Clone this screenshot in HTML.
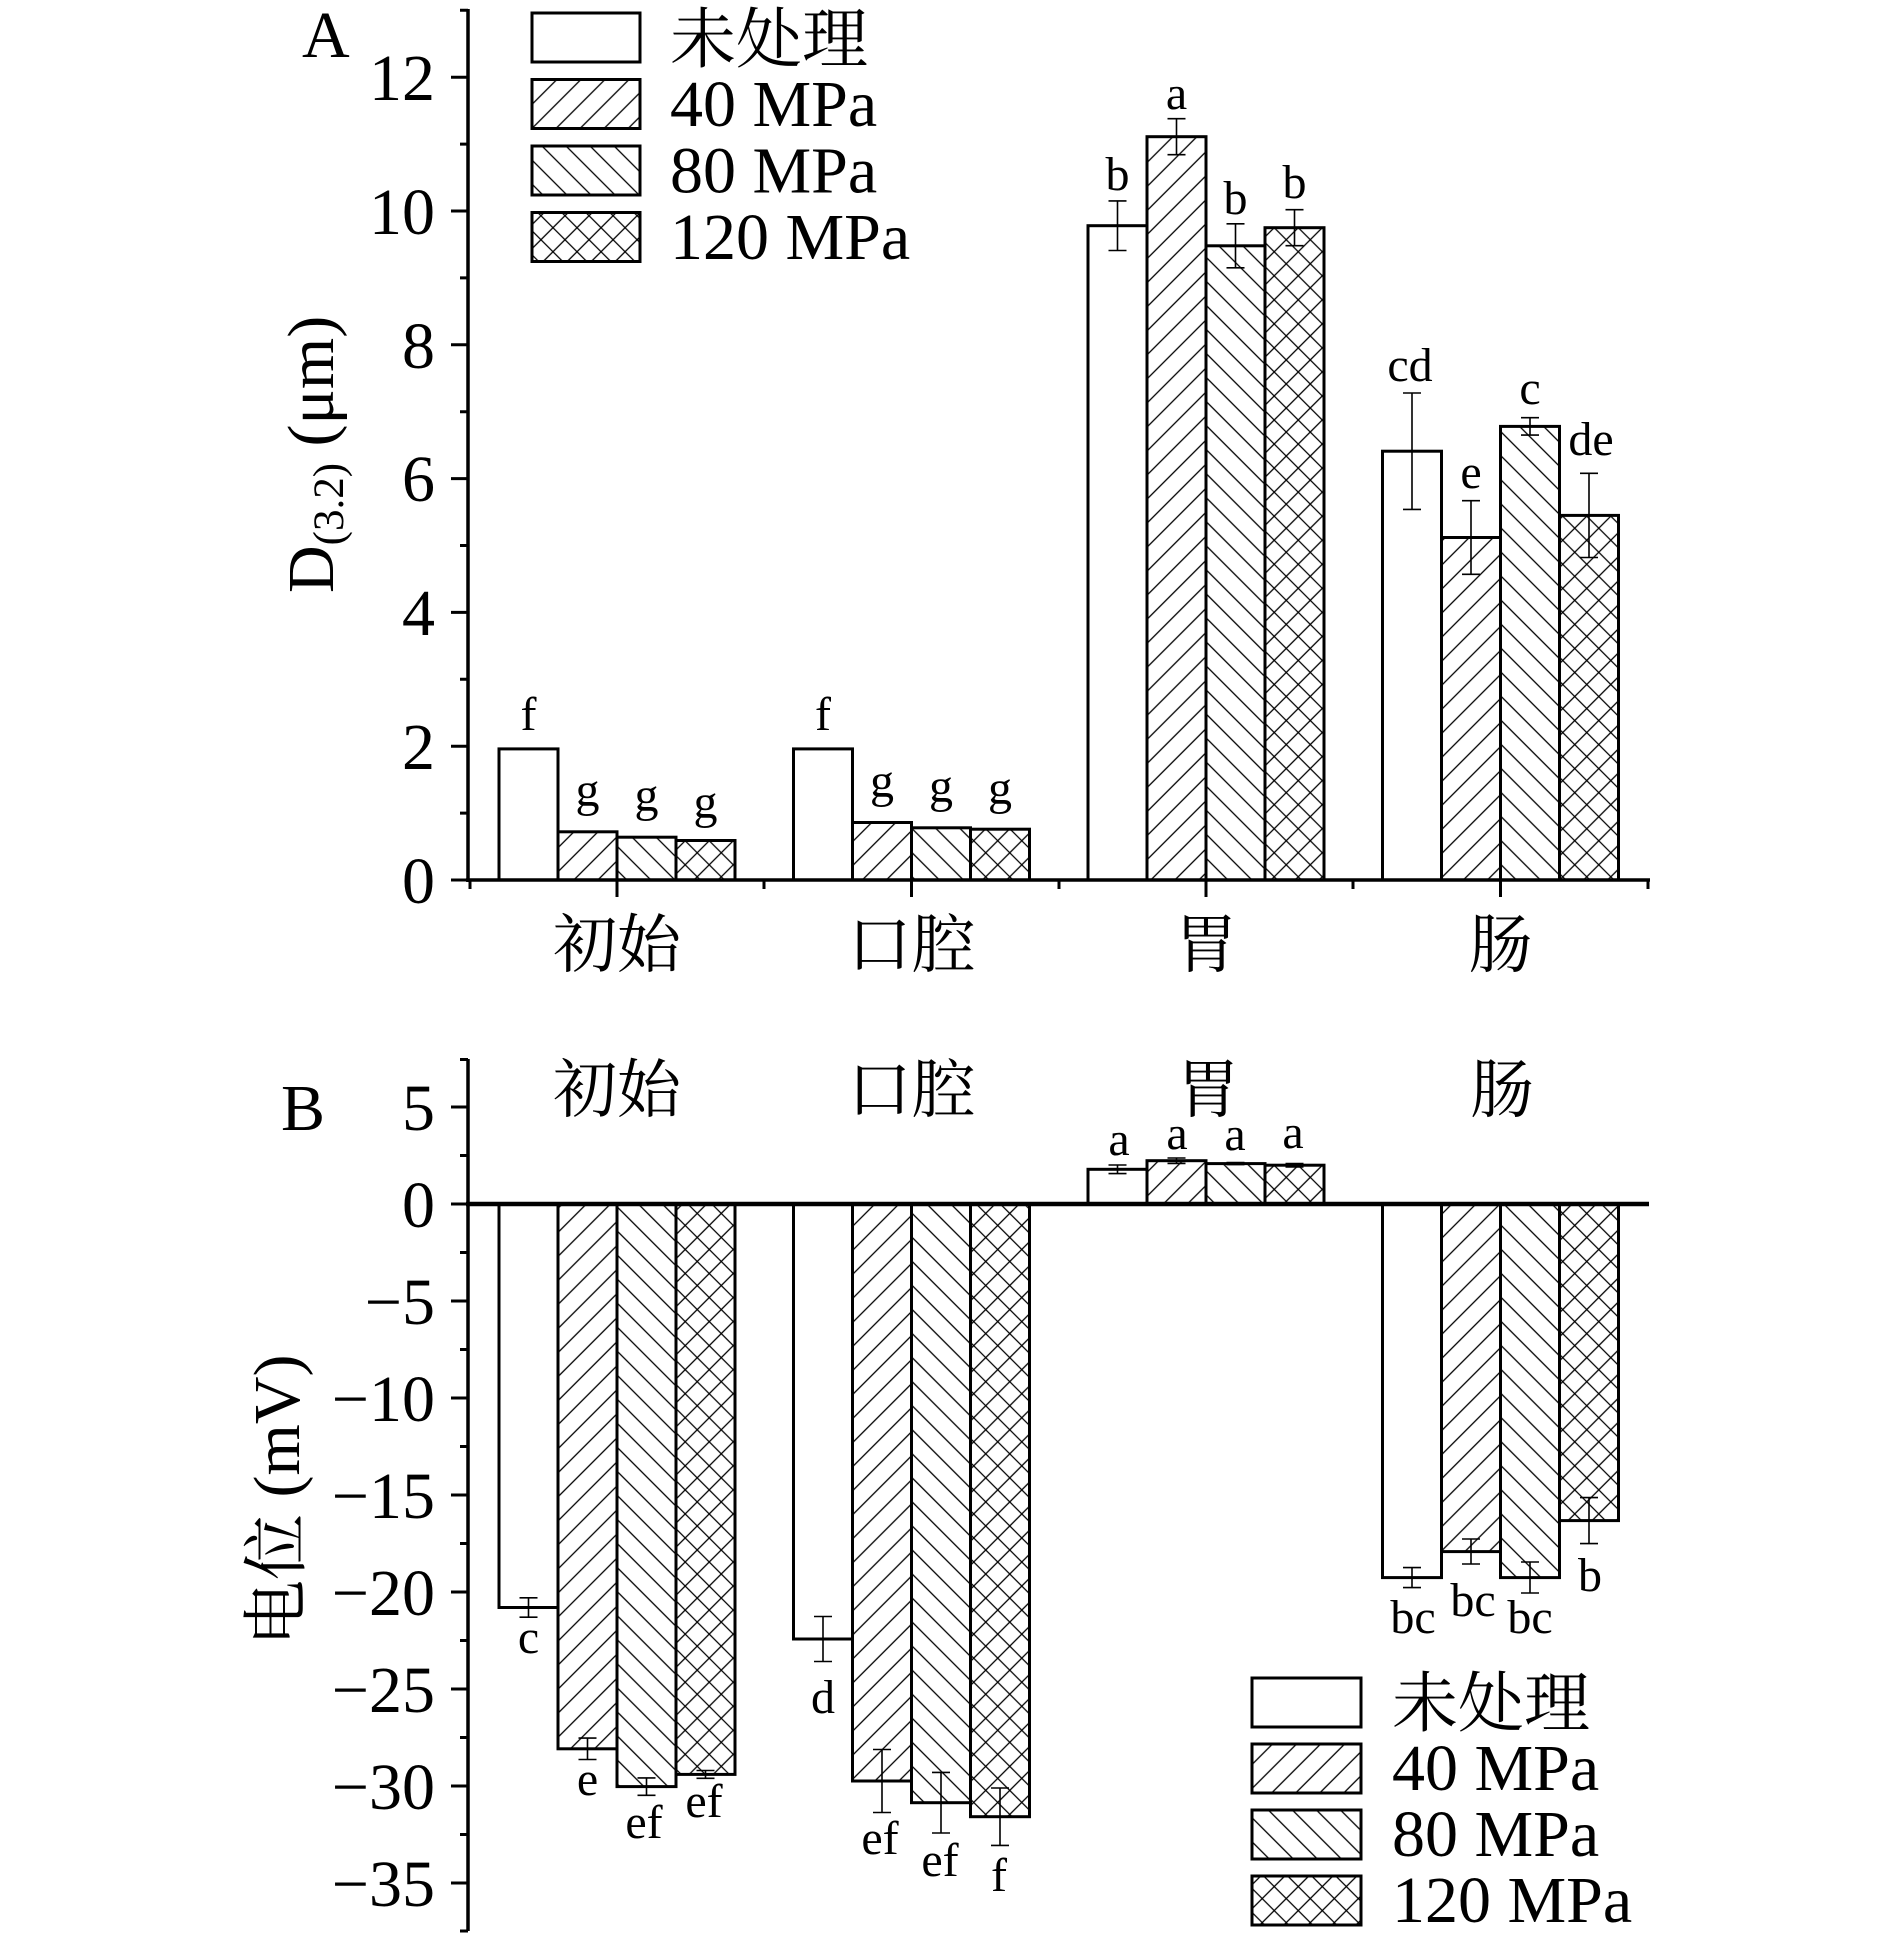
<!DOCTYPE html>
<html>
<head>
<meta charset="utf-8">
<style>
html,body{margin:0;padding:0;background:#fff;}
svg{display:block;}
text{font-family:"Liberation Serif","Noto Serif CJK SC",serif;fill:#000;}
.cjk{font-family:"Liberation Serif","Noto Serif CJK SC","Noto Sans CJK SC",serif;}
</style>
</head>
<body>
<svg width="1890" height="1943" viewBox="0 0 1890 1943" xmlns="http://www.w3.org/2000/svg">
<defs>
<pattern id="p40" patternUnits="userSpaceOnUse" width="17" height="17" patternTransform="rotate(45)">
<line x1="8" y1="-1" x2="8" y2="18" stroke="#000" stroke-width="1.3"/>
</pattern>
<pattern id="p80" patternUnits="userSpaceOnUse" width="17" height="17" patternTransform="rotate(-45)">
<line x1="8" y1="-1" x2="8" y2="18" stroke="#000" stroke-width="1.3"/>
</pattern>
<pattern id="p120" patternUnits="userSpaceOnUse" width="17" height="17" patternTransform="rotate(45)">
<line x1="8" y1="-1" x2="8" y2="18" stroke="#000" stroke-width="1.3"/>
<line x1="-1" y1="8" x2="18" y2="8" stroke="#000" stroke-width="1.3"/>
</pattern>
</defs>
<rect width="1890" height="1943" fill="#fff"/>

<!-- ============ PANEL A ============ -->
<text x="302" y="57" font-size="66">A</text>

<!-- bars A -->
<g stroke="#000" stroke-width="3">
<rect x="499" y="748.9" width="59" height="131.1" fill="#fff"/>
<rect x="558" y="831.8" width="59" height="48.2" fill="url(#p40)"/>
<rect x="617" y="837.2" width="59" height="42.8" fill="url(#p80)"/>
<rect x="676" y="840.5" width="59" height="39.5" fill="url(#p120)"/>

<rect x="793.5" y="748.9" width="59" height="131.1" fill="#fff"/>
<rect x="852.5" y="822.5" width="59" height="57.5" fill="url(#p40)"/>
<rect x="911.5" y="827.8" width="59" height="52.2" fill="url(#p80)"/>
<rect x="970.5" y="829.2" width="59" height="50.8" fill="url(#p120)"/>

<rect x="1088" y="225.7" width="59" height="654.3" fill="#fff"/>
<rect x="1147" y="136.7" width="59" height="743.3" fill="url(#p40)"/>
<rect x="1206" y="245.8" width="59" height="634.2" fill="url(#p80)"/>
<rect x="1265" y="227.7" width="59" height="652.3" fill="url(#p120)"/>

<rect x="1382.5" y="451.2" width="59" height="428.8" fill="#fff"/>
<rect x="1441.5" y="537.5" width="59" height="342.5" fill="url(#p40)"/>
<rect x="1500.5" y="426.4" width="59" height="453.6" fill="url(#p80)"/>
<rect x="1559.5" y="515.4" width="59" height="364.6" fill="url(#p120)"/>
</g>

<!-- error bars A -->
<g stroke="#000" stroke-width="1.6" fill="none">
<path d="M519.5 748.5H537.5"/>
<path d="M1117.5 200.9V250.5M1108.5 200.9H1126.5M1108.5 250.5H1126.5"/>
<path d="M1176.5 118.7V154.7M1167.5 118.7H1185.5M1167.5 154.7H1185.5"/>
<path d="M1235.5 223.8V267.8M1226.5 223.8H1244.5M1226.5 267.8H1244.5"/>
<path d="M1294.5 209.7V245.7M1285.5 209.7H1303.5M1285.5 245.7H1303.5"/>
<path d="M1412 393V509.4M1403 393H1421M1403 509.4H1421"/>
<path d="M1471 500.7V574.3M1462 500.7H1480M1462 574.3H1480"/>
<path d="M1530 417.7V435.1M1521 417.7H1539M1521 435.1H1539"/>
<path d="M1589 473.3V557.5M1580 473.3H1598M1580 557.5H1598"/>
</g>

<!-- letters A -->
<g font-size="48" text-anchor="middle">
<text x="528.5" y="730">f</text>
<text x="587.5" y="806">g</text>
<text x="646.5" y="811">g</text>
<text x="705.5" y="818">g</text>
<text x="823" y="730">f</text>
<text x="882" y="797">g</text>
<text x="941" y="802">g</text>
<text x="1000" y="804">g</text>
<text x="1117.5" y="190">b</text>
<text x="1176.5" y="109">a</text>
<text x="1235.5" y="214">b</text>
<text x="1294.5" y="198">b</text>
<text x="1410" y="381">cd</text>
<text x="1471" y="488">e</text>
<text x="1530" y="404">c</text>
<text x="1591" y="455">de</text>
</g>

<!-- axes A -->
<g stroke="#000" fill="none">
<line x1="468" y1="9" x2="468" y2="882" stroke-width="3.5"/>
<line x1="466" y1="880" x2="1650" y2="880" stroke-width="3.5"/>
<g stroke-width="3">
<path d="M451 880H468M451 746.2H468M451 612.4H468M451 478.6H468M451 344.8H468M451 211H468M451 77.2H468"/>
<path d="M460 813.1H468M460 679.3H468M460 545.5H468M460 411.7H468M460 277.9H468M460 144.1H468M460 10.3H468"/>
<path d="M617 880V897M911.5 880V897M1206 880V897M1500.5 880V897"/>
<path d="M470 880V889M764 880V889M1059 880V889M1353 880V889M1648 880V889"/>
</g>
</g>
<g font-size="66" text-anchor="end">
<text x="435" y="903">0</text>
<text x="435" y="769">2</text>
<text x="435" y="635">4</text>
<text x="435" y="501">6</text>
<text x="435" y="368">8</text>
<text x="435" y="234">10</text>
<text x="435" y="100">12</text>
</g>
<g font-size="64" text-anchor="middle" class="cjk">
<text x="617" y="967" class="cjk">初始</text>
<text x="911.5" y="967" class="cjk">口腔</text>
<text x="1206" y="967" class="cjk">胃</text>
<text x="1500.5" y="967" class="cjk">肠</text>
</g>
<text transform="translate(333,593) rotate(-90)" font-size="66">D<tspan font-size="43" dy="10">(3.2)</tspan><tspan dy="-10"> (μm)</tspan></text>

<!-- legend A -->
<g stroke="#000" stroke-width="3">
<rect x="532" y="13" width="108" height="49" fill="#fff"/>
<rect x="532" y="79.5" width="108" height="49" fill="url(#p40)"/>
<rect x="532" y="146" width="108" height="49" fill="url(#p80)"/>
<rect x="532" y="212.5" width="108" height="49" fill="url(#p120)"/>
</g>
<g font-size="66">
<text x="670" y="62" class="cjk">未处理</text>
<text x="670" y="126">40 MPa</text>
<text x="670" y="192.5">80 MPa</text>
<text x="670" y="259">120 MPa</text>
</g>

<!-- ============ PANEL B ============ -->
<text x="281" y="1130" font-size="66">B</text>

<g stroke="#000" stroke-width="3">
<rect x="499" y="1204" width="59" height="403.5" fill="#fff"/>
<rect x="558" y="1204" width="59" height="544.8" fill="url(#p40)"/>
<rect x="617" y="1204" width="59" height="582.6" fill="url(#p80)"/>
<rect x="676" y="1204" width="59" height="570.4" fill="url(#p120)"/>

<rect x="793.5" y="1204" width="59" height="435" fill="#fff"/>
<rect x="852.5" y="1204" width="59" height="577" fill="url(#p40)"/>
<rect x="911.5" y="1204" width="59" height="598.7" fill="url(#p80)"/>
<rect x="970.5" y="1204" width="59" height="612.7" fill="url(#p120)"/>

<rect x="1088" y="1169.3" width="59" height="34.7" fill="#fff"/>
<rect x="1147" y="1160.7" width="59" height="43.3" fill="url(#p40)"/>
<rect x="1206" y="1163.6" width="59" height="40.4" fill="url(#p80)"/>
<rect x="1265" y="1165.2" width="59" height="38.8" fill="url(#p120)"/>

<rect x="1382.5" y="1204" width="59" height="373.6" fill="#fff"/>
<rect x="1441.5" y="1204" width="59" height="347.6" fill="url(#p40)"/>
<rect x="1500.5" y="1204" width="59" height="373.6" fill="url(#p80)"/>
<rect x="1559.5" y="1204" width="59" height="316.6" fill="url(#p120)"/>
</g>

<g stroke="#000" stroke-width="1.6" fill="none">
<path d="M528.5 1597.8V1617.2M519.5 1597.8H537.5M519.5 1617.2H537.5"/>
<path d="M587.5 1738.1V1759.5M578.5 1738.1H596.5M578.5 1759.5H596.5"/>
<path d="M646.5 1777.9V1795.3M637.5 1777.9H655.5M637.5 1795.3H655.5"/>
<path d="M705.5 1770.5V1778.3M696.5 1770.5H714.5M696.5 1778.3H714.5"/>
<path d="M823 1616.5V1661.5M814 1616.5H832M814 1661.5H832"/>
<path d="M882 1749.5V1812.5M873 1749.5H891M873 1812.5H891"/>
<path d="M941 1772.4V1833M932 1772.4H950M932 1833H950"/>
<path d="M1000 1788V1845.4M991 1788H1009M991 1845.4H1009"/>
<path d="M1117.5 1165V1173.6M1108.5 1165H1126.5M1108.5 1173.6H1126.5"/>
<path d="M1176.5 1158V1163.4M1167.5 1158H1185.5M1167.5 1163.4H1185.5"/>
<path d="M1235.5 1162.6V1164.6M1226.5 1162.6H1244.5M1226.5 1164.6H1244.5"/>
<path d="M1294.5 1163.5V1166.9M1285.5 1163.5H1303.5M1285.5 1166.9H1303.5"/>
<path d="M1412 1567.6V1587.6M1403 1567.6H1421M1403 1587.6H1421"/>
<path d="M1471 1539V1564M1462 1539H1480M1462 1564H1480"/>
<path d="M1530 1562V1593M1521 1562H1539M1521 1593H1539"/>
<path d="M1589 1497.6V1543.6M1580 1497.6H1598M1580 1543.6H1598"/>
</g>

<g font-size="48" text-anchor="middle">
<text x="528.5" y="1653">c</text>
<text x="587.5" y="1795">e</text>
<text x="644" y="1838">ef</text>
<text x="704" y="1817">ef</text>
<text x="823" y="1713">d</text>
<text x="880" y="1854">ef</text>
<text x="940" y="1876">ef</text>
<text x="999" y="1891">f</text>
<text x="1119" y="1155">a</text>
<text x="1177" y="1149">a</text>
<text x="1235" y="1150">a</text>
<text x="1293" y="1148">a</text>
<text x="1413" y="1633">bc</text>
<text x="1473" y="1616">bc</text>
<text x="1530" y="1633">bc</text>
<text x="1590" y="1591">b</text>
</g>

<g stroke="#000" fill="none">
<line x1="468" y1="1059" x2="468" y2="1931" stroke-width="3.5"/>
<line x1="466" y1="1204" x2="1649" y2="1204" stroke-width="4.5"/>
<g stroke-width="3">
<path d="M451 1107H468M451 1204H468M451 1301H468M451 1398H468M451 1495H468M451 1592H468M451 1689H468M451 1786H468M451 1883H468"/>
<path d="M460 1059.5H468M460 1155.5H468M460 1252.5H468M460 1349.5H468M460 1446.5H468M460 1543.5H468M460 1640.5H468M460 1737.5H468M460 1834.5H468M460 1931H468"/>
</g>
</g>
<g font-size="66" text-anchor="end">
<text x="435" y="1130">5</text>
<text x="435" y="1227">0</text>
<text x="435" y="1324">−5</text>
<text x="435" y="1421">−10</text>
<text x="435" y="1518">−15</text>
<text x="435" y="1615">−20</text>
<text x="435" y="1712">−25</text>
<text x="435" y="1809">−30</text>
<text x="435" y="1906">−35</text>
</g>
<g font-size="64" text-anchor="middle">
<text x="617" y="1112" class="cjk">初始</text>
<text x="911.5" y="1112" class="cjk">口腔</text>
<text x="1208" y="1112" class="cjk">胃</text>
<text x="1502" y="1112" class="cjk">肠</text>
</g>
<text transform="translate(299,1646) rotate(-90)" font-size="66" class="cjk">电位 (mV)</text>

<!-- legend B -->
<g stroke="#000" stroke-width="3">
<rect x="1252" y="1678" width="109" height="49" fill="#fff"/>
<rect x="1252" y="1744" width="109" height="49" fill="url(#p40)"/>
<rect x="1252" y="1810" width="109" height="49" fill="url(#p80)"/>
<rect x="1252" y="1876" width="109" height="49" fill="url(#p120)"/>
</g>
<g font-size="66">
<text x="1392" y="1726" class="cjk">未处理</text>
<text x="1392" y="1790">40 MPa</text>
<text x="1392" y="1856">80 MPa</text>
<text x="1392" y="1922">120 MPa</text>
</g>
</svg>
</body>
</html>
